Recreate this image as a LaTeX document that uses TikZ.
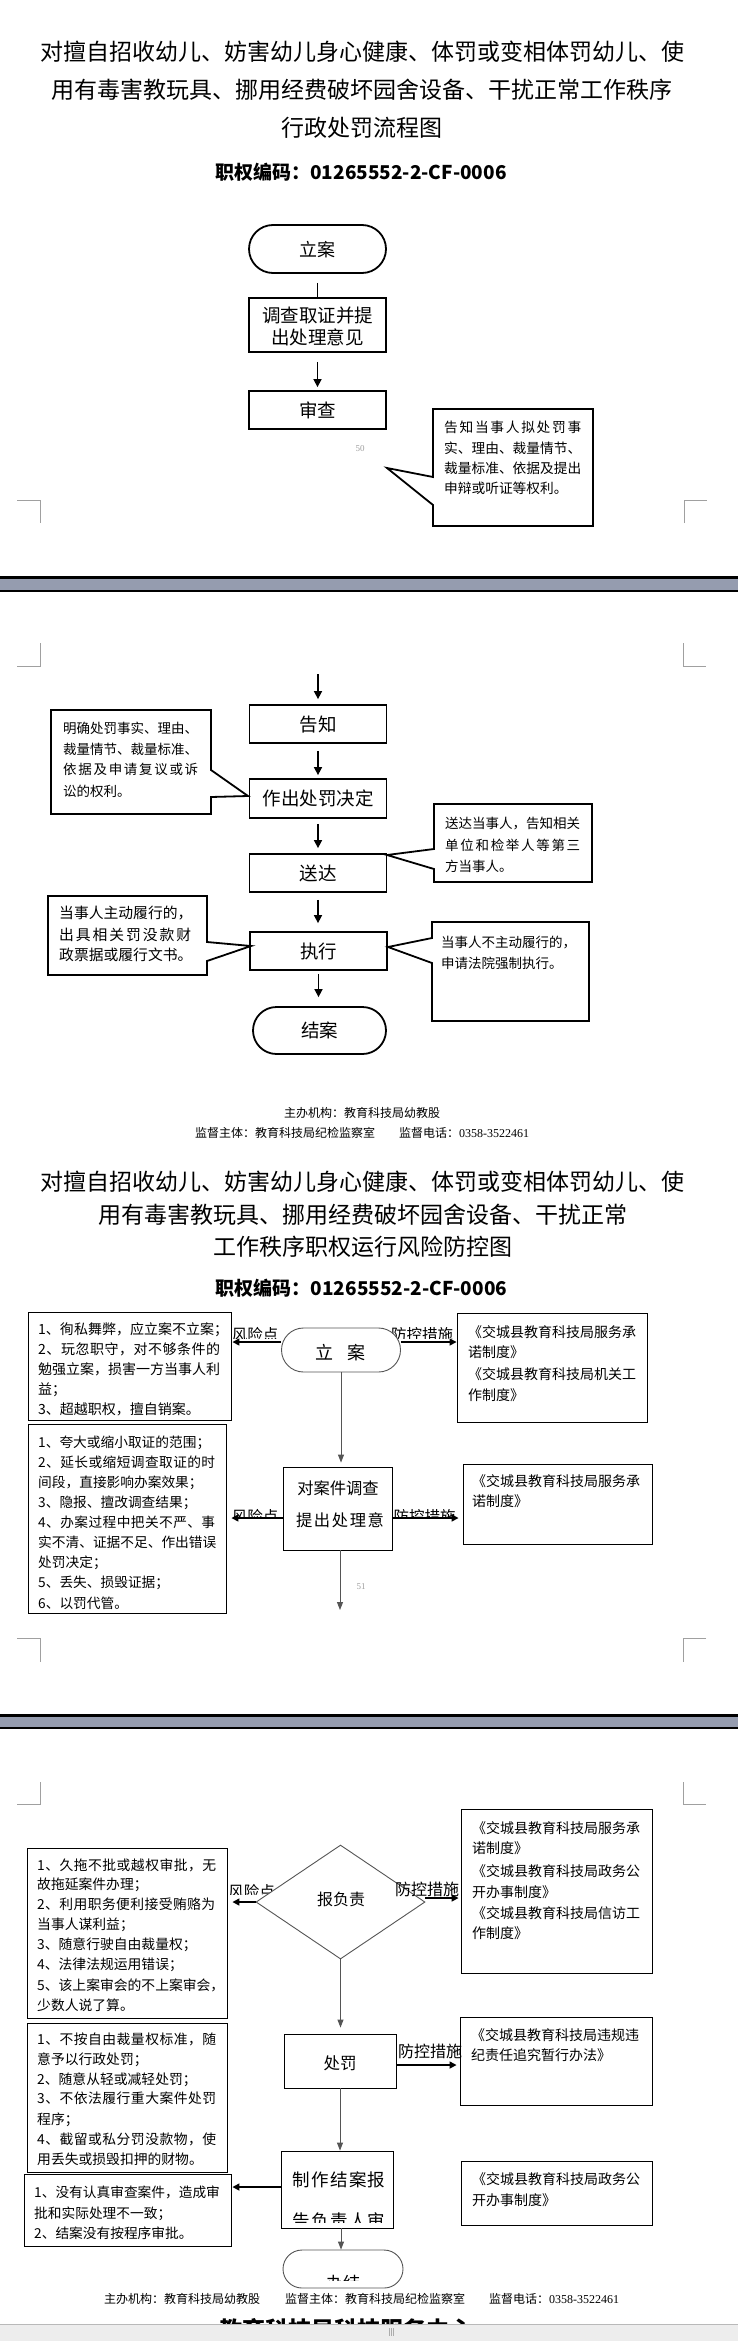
\documentclass[tikz,border=0pt]{standalone}
\usepackage{fontspec}
\setmainfont{Noto Sans CJK SC}
\newfontfamily\tnr{Liberation Serif}
\usetikzlibrary{arrows.meta,shapes.geometric}
\definecolor{bandgray}{RGB}{149,156,175}
\definecolor{markgray}{RGB}{160,160,160}
\definecolor{edgegray}{RGB}{85,85,85}
\makeatletter
\newcommand\myspread[2]{\hbox to #1{\@tfor\my@tok:=#2\do{\my@tok\hfil}\unskip}}
\makeatother
\begin{document}
\begin{tikzpicture}[x=1pt,y=-1pt,
  ln/.style={inner sep=0pt, anchor=west, font=\fontsize{#1}{#1}\selectfont, text height=#1pt*0.88, text depth=#1pt*0.12},
  ct/.style={ln=#1, anchor=center},
  bct/.style={ln=#1, anchor=center, font=\fontsize{#1}{#1}\selectfont\bfseries},
  tbox/.style={draw, line width=1.8pt, inner sep=0pt},
  nbox/.style={draw, line width=0.9pt, inner sep=0pt},
  gbox/.style={draw=edgegray, line width=0.9pt, inner sep=0pt, fill=white},
  callout/.style={draw, line width=1.8pt, fill=white, line join=miter},
  arrA/.style={line width=1.6pt, -{Triangle[length=8pt,width=8pt]}},
  arrB/.style={line width=0.9pt, draw=edgegray, -{Triangle[length=8pt,width=6pt]}},
  arrC/.style={line width=1.5pt, -{Triangle[length=7pt,width=7pt]}},
  mk/.style={draw=markgray, line width=0.6pt},
  pgmark/.style={inner sep=0pt, font=\fontsize{9}{9}\selectfont\tnr, text=markgray}
]
\fill[white] (0,0) rectangle (738,2341);
\useasboundingbox (0,0) rectangle (738,2341);

%================ PAGE 1 =================
\node[ct=23] (t1) at (362,52) {对擅自招收幼儿、妨害幼儿身心健康、体罚或变相体罚幼儿、使};
\node[ct=23] (t2) at (362,90) {用有毒害教玩具、挪用经费破坏园舍设备、干扰正常工作秩序};
\node[ct=23] (t3) at (362,128) {行政处罚流程图};
\node[bct=19] (code1) at (361,172) {职权编码：01265552-2-CF-0006};

\node[tbox, rounded corners=24pt, minimum width=137pt, minimum height=48pt] (la1) at (317.5,249) {};
\node[ct=18] (la1t) at (317.5,250) {立案};
\node[tbox, minimum width=137pt, minimum height=54pt] (dc1) at (317.5,325) {};
\node[ct=18.5] (dc1a) at (317.5,315) {调查取证并提};
\node[ct=18.5] (dc1b) at (317.5,337) {出处理意见};
\node[tbox, ct=18.5, minimum width=137pt, minimum height=38pt] (sc1) at (317.5,410) {审查};
\draw[line width=1.6pt, shorten <=9pt] (la1.south) -- (dc1.north);
\draw[arrA, shorten <=9pt, shorten >=3pt] (dc1.south) -- (sc1.north);

\draw[callout] (433,409) -- (593,409) -- (593,526) -- (433,526) -- (433,505) -- (387,468) -- (433,477) -- cycle;
\node[ln=13.7] (n1a) at (444,427) {\myspread{137pt}{告知当事人拟处罚事}};
\node[ln=13.7] (n1b) at (444,448) {实、理由、裁量情节、};
\node[ln=13.7] (n1c) at (444,468) {裁量标准、依据及提出};
\node[ln=13.7] (n1d) at (444,488) {申辩或听证等权利。};
\node[pgmark] (p50) at (360,449) {50};

\draw[mk] (684,523) -- (684,500) -- (707,500);
\draw[mk] (17,500) -- (40,500) -- (40,523);

% page break band
\fill[black] (0,576) rectangle (738,579);
\fill[bandgray] (0,579) rectangle (738,590);
\fill[black] (0,590) rectangle (738,591.5);

%================ PAGE 2 =================
\draw[mk] (40,643) -- (40,666) -- (17,666);
\draw[mk] (683,643) -- (683,666) -- (706,666);

\coordinate (c0) at (318,674);
\node[tbox, ct=18.5, minimum width=137pt, minimum height=38pt] (gz) at (318,724) {告知};
\draw[arrA, shorten >=5pt] (c0) -- (c0 |- gz.north);

\draw[callout] (51,710) -- (211,710) -- (211,770) -- (248,796) -- (211,797) -- (211,814) -- (51,814) -- cycle;
\node[ln=13.5] (n2a) at (63,728) {明确处罚事实、理由、};
\node[ln=13.5] (n2b) at (63,749) {裁量情节、裁量标准、};
\node[ln=13.5] (n2c) at (63,769) {\myspread{135pt}{依据及申请复议或诉}};
\node[ln=13.5] (n2d) at (63,791) {讼的权利。};

\node[tbox, ct=18.5, minimum width=137pt, minimum height=39pt] (jd) at (318,798.5) {作出处罚决定};
\draw[arrA, shorten <=7pt, shorten >=3pt] (gz.south) -- (jd.north);

\draw[callout] (434,804) -- (592,804) -- (592,882) -- (434,882) -- (434,869) -- (387,855) -- (434,849) -- cycle;
\node[ln=13.5] (n3a) at (445,823) {送达当事人，告知相关};
\node[ln=13.5] (n3b) at (445,845) {\myspread{135pt}{单位和检举人等第三}};
\node[ln=13.5] (n3c) at (445,866) {方当事人。};

\node[tbox, ct=18.5, minimum width=137pt, minimum height=38pt] (sd) at (318,873) {送达};
\draw[arrA, shorten <=5pt, shorten >=5pt] (jd.south) -- (sd.north);

\draw[callout] (48,896) -- (207,896) -- (207,942) -- (251,946) -- (207,961) -- (207,975) -- (48,975) -- cycle;
\node[ln=14.8] (n4a) at (59,913) {当事人主动履行的，};
\node[ln=14.8] (n4b) at (59,935) {\myspread{132pt}{出具相关罚没款财}};
\node[ln=14.8] (n4c) at (59,955) {政票据或履行文书。};

\draw[callout] (432,922) -- (589,922) -- (589,1021) -- (432,1021) -- (432,963) -- (388,947) -- (432,938) -- cycle;
\node[ln=13.5] (n5a) at (441,942) {当事人不主动履行的，};
\node[ln=13.5] (n5b) at (441,963) {申请法院强制执行。};

\node[tbox, ct=18.5, minimum width=137pt, minimum height=38pt] (zx) at (318.5,951) {执行};
\draw[arrA, shorten <=7pt, shorten >=8pt] (sd.south) -- (sd.south |- zx.north);

\node[tbox, ct=18.5, rounded corners=23.5pt, minimum width=133pt, minimum height=47pt] (ja) at (319.5,1030.5) {结案};
\draw[arrA, shorten <=3pt, shorten >=9pt] (zx.south) -- (zx.south |- ja.north);

\node[ct=12] (f1) at (362,1113) {主办机构：教育科技局幼教股};
\node[ln=12] (f2) at (195,1133) {监督主体：教育科技局纪检监察室};
\node[ln=12] (f3) at (399,1133) {监督电话：{\tnr 0358-3522461}};

%================ PAGE 2 (risk chart) =================
\node[ct=23] (t4) at (362,1182) {对擅自招收幼儿、妨害幼儿身心健康、体罚或变相体罚幼儿、使};
\node[ct=23] (t5) at (363,1215) {用有毒害教玩具、挪用经费破坏园舍设备、干扰正常};
\node[ct=23] (t6) at (362.5,1247) {工作秩序职权运行风险防控图};
\node[bct=19] (code2) at (361.5,1288) {职权编码：01265552-2-CF-0006};

% left box 1
\node[nbox, minimum width=203pt, minimum height=108pt] (L1) at (129.5,1366) {};
\node[ln=14] (l1a) at (38,1329) {\myspread{190pt}{1、徇私舞弊，应立案不立案；}};
\node[ln=14] (l1b) at (38,1349) {\myspread{182pt}{2、玩忽职守，对不够条件的}};
\node[ln=14] (l1c) at (38,1369) {勉强立案，损害一方当事人利};
\node[ln=14] (l1d) at (38,1389) {益；};
\node[ln=14] (l1e) at (38,1409) {3、超越职权，擅自销案。};

\begin{scope}
  \clip (226,1318) rectangle (284,1338);
  \node[ct=15.5] (rk1) at (255,1335) {风险点};
\end{scope}
\begin{scope}
  \clip (388,1318) rectangle (458,1338);
  \node[ct=15.5] (fk1) at (422,1335) {防控措施};
\end{scope}

\node[gbox, rounded corners=22pt, minimum width=119pt, minimum height=44pt] (la2) at (341,1350) {};
\node[ct=18] (la2t) at (340.5,1353) {\myspread{51pt}{立案}};

\node[nbox, minimum width=190pt, minimum height=109pt] (R1) at (552,1367.5) {};
\node[ln=14] (r1a) at (468,1332) {《交城县教育科技局服务承};
\node[ln=14] (r1b) at (468,1352) {诺制度》};
\node[ln=14] (r1c) at (468,1374) {《交城县教育科技局机关工};
\node[ln=14] (r1d) at (468,1395) {作制度》};

\draw[arrC, shorten >=1pt] ([yshift=8pt]la2.west) -- ([yshift=8pt]la2.west -| L1.east);
\draw[arrC] ([yshift=8pt]la2.east) -- ([yshift=8pt]la2.east -| R1.west);

\node[nbox, minimum width=109pt, minimum height=83pt] (dc2) at (337.5,1508.5) {};
\node[ct=16.3] (dc2a) at (338,1488) {对案件调查};
\node[ct=16.3] (dc2b) at (340,1520) {\myspread{88pt}{提出处理意}};
\draw[arrB, shorten >=4pt] (la2.south) -- (la2.south |- dc2.north);

\node[nbox, minimum width=198pt, minimum height=189pt] (L2) at (127,1518.5) {};
\node[ln=13.7] (l2a) at (38,1442) {1、夸大或缩小取证的范围；};
\node[ln=13.7] (l2b) at (38,1462) {\myspread{177pt}{2、延长或缩短调查取证的时}};
\node[ln=13.7] (l2c) at (38,1482) {间段，直接影响办案效果；};
\node[ln=13.7] (l2d) at (38,1502) {3、隐报、擅改调查结果；};
\node[ln=13.7] (l2e) at (38,1522) {\myspread{177pt}{4、办案过程中把关不严、事}};
\node[ln=13.7] (l2f) at (38,1542) {实不清、证据不足、作出错误};
\node[ln=13.7] (l2g) at (38,1562) {处罚决定；};
\node[ln=13.7] (l2h) at (38,1582) {5、丢失、损毁证据；};
\node[ln=13.7] (l2i) at (38,1603) {6、以罚代管。};

\begin{scope}
  \clip (226,1500) rectangle (284,1517);
  \node[ct=15.5] (rk2) at (255,1517) {风险点};
\end{scope}
\begin{scope}
  \clip (390,1500) rectangle (460,1517);
  \node[ct=15.5] (fk2) at (424.5,1517) {防控措施};
\end{scope}

\node[nbox, minimum width=189pt, minimum height=80pt] (R2) at (557.5,1504) {};
\node[ln=14] (r2a) at (472,1481) {《交城县教育科技局服务承};
\node[ln=14] (r2b) at (472,1501) {诺制度》};

\draw[arrC, shorten >=5pt] ([yshift=-9.5pt]dc2.west) -- ([yshift=-9.5pt]dc2.west -| L2.east);
\draw[arrC, shorten >=4pt] ([yshift=-9.5pt]dc2.east) -- ([yshift=-9.5pt]dc2.east -| R2.west);

\coordinate (c1e) at (340,1610);
\draw[arrB] (dc2.south -| c1e) -- (c1e);
\node[pgmark] (p51) at (361,1587) {51};

\draw[mk] (17,1638) -- (40,1638) -- (40,1662);
\draw[mk] (706,1638) -- (683,1638) -- (683,1662);

% page break band
\fill[black] (0,1714) rectangle (738,1717);
\fill[bandgray] (0,1717) rectangle (738,1727);
\fill[black] (0,1727) rectangle (738,1729);

\draw[mk] (40,1782) -- (40,1804) -- (17,1804);
\draw[mk] (683,1782) -- (683,1804) -- (706,1804);

%================ PAGE 3 =================
\begin{scope}
  \clip (224,1876) rectangle (282,1894);
  \node[ct=15.5] (rk3) at (251.5,1892) {风险点};
\end{scope}

\node[diamond, draw=edgegray, line width=0.9pt, fill=white, minimum width=169pt, minimum height=114pt, inner sep=0pt] (bfz) at (340.5,1902) {};
\node[ct=16] (bfzt) at (341,1899) {报负责};
\node[ct=16] (fk3) at (427,1889) {防控措施};

\node[nbox, minimum width=191pt, minimum height=164pt] (R3) at (556.5,1891) {};
\node[ln=14] (r3a) at (472,1828) {《交城县教育科技局服务承};
\node[ln=14] (r3b) at (472,1848) {诺制度》};
\node[ln=14] (r3c) at (472,1871) {《交城县教育科技局政务公};
\node[ln=14] (r3d) at (472,1892) {开办事制度》};
\node[ln=14] (r3e) at (472,1913) {《交城县教育科技局信访工};
\node[ln=14] (r3f) at (472,1933) {作制度》};

\node[nbox, minimum width=200pt, minimum height=170pt] (L3) at (127,1933) {};
\node[ln=13.8] (l3a) at (37,1865) {\myspread{179pt}{1、久拖不批或越权审批，无}};
\node[ln=13.8] (l3b) at (37,1884) {故拖延案件办理；};
\node[ln=13.8] (l3c) at (37,1904) {\myspread{178pt}{2、利用职务便利接受贿赂为}};
\node[ln=13.8] (l3d) at (37,1924) {当事人谋利益；};
\node[ln=13.8] (l3e) at (37,1944) {3、随意行驶自由裁量权；};
\node[ln=13.8] (l3f) at (37,1964) {4、法律法规运用错误；};
\node[ln=13.8] (l3g) at (37,1985) {5、该上案审会的不上案审会，};
\node[ln=13.8] (l3h) at (37,2005) {少数人说了算。};

\draw[arrC, shorten >=5pt] (bfz.west) -- (bfz.west -| L3.east);
\draw[arrC, shorten >=2pt] ([yshift=4pt]bfz.east) -- ([yshift=4pt]bfz.east -| R3.west);

\node[nbox, ct=16.5, minimum width=112pt, minimum height=54pt] (cf) at (340,2061) {};
\node[ct=16.5] (cft) at (340,2063) {处罚};
\draw[arrB, shorten >=6pt] (bfz.south) -- (bfz.south |- cf.north);
\node[ct=16] (fk4) at (430,2051) {防控措施};

\node[nbox, minimum width=192pt, minimum height=88pt] (R4) at (556,2061) {};
\node[ln=14] (r4a) at (471,2035) {《交城县教育科技局违规违};
\node[ln=14] (r4b) at (471,2055) {纪责任追究暂行办法》};
\draw[arrC, shorten >=3pt] ([yshift=-4pt]cf.east) -- ([yshift=-4pt]cf.east -| R4.west);

\node[nbox, minimum width=200pt, minimum height=149pt] (L4) at (127,2097.5) {};
\node[ln=13.8] (l4a) at (37,2039) {\myspread{179pt}{1、不按自由裁量权标准，随}};
\node[ln=13.8] (l4b) at (37,2059) {意予以行政处罚；};
\node[ln=13.8] (l4c) at (37,2079) {2、随意从轻或减轻处罚；};
\node[ln=13.8] (l4d) at (37,2098) {\myspread{179pt}{3、不依法履行重大案件处罚}};
\node[ln=13.8] (l4e) at (37,2119) {程序；};
\node[ln=13.8] (l4f) at (37,2139) {\myspread{179pt}{4、截留或私分罚没款物，使}};
\node[ln=13.8] (l4g) at (37,2159) {用丢失或损毁扣押的财物。};

\node[nbox, minimum width=112pt, minimum height=77pt] (zj) at (337,2189.5) {};
\node[ct=17.5] (zja) at (339,2180) {\myspread{93pt}{制作结案报}};
\begin{scope}
  \clip (282,2200) rectangle (392,2222);
  \node[ct=17.5] (zjb) at (339,2221) {\myspread{93pt}{告负责人审}};
\end{scope}
\draw[arrB] (cf.south) -- (cf.south |- zj.north);

\node[nbox, minimum width=207pt, minimum height=72pt] (L5) at (127.5,2210) {};
\node[ln=13.7] (l5a) at (34,2192) {1、没有认真审查案件，造成审};
\node[ln=13.7] (l5b) at (34,2213) {批和实际处理不一致；};
\node[ln=13.7] (l5c) at (34,2233) {2、结案没有按程序审批。};
\draw[arrC, shorten >=1pt] ([yshift=2.5pt]zj.west) -- ([yshift=2.5pt]zj.west -| L5.east);

\node[nbox, minimum width=191pt, minimum height=64pt] (R5) at (556.5,2193) {};
\node[ln=14] (r5a) at (472,2179) {《交城县教育科技局政务公};
\node[ln=14] (r5b) at (472,2200) {开办事制度》};

\node[gbox, rounded corners=19pt, minimum width=120pt, minimum height=38pt] (bj) at (343,2269) {};
\begin{scope}
  \clip (290,2255) rectangle (396,2280);
  \node[ct=17] (bjt) at (343,2283) {办结};
\end{scope}
\draw[arrB] ([xshift=4pt]zj.south) -- ([xshift=4pt]zj.south |- bj.north);

\node[ln=12] (f4) at (104,2299) {主办机构：教育科技局幼教股};
\node[ln=12] (f5) at (285,2299) {监督主体：教育科技局纪检监察室};
\node[ln=12] (f6) at (489,2299) {监督电话：{\tnr 0358-3522461}};

\node[bct=23] (t7) at (357,2330) {教育科技局科技服务中心、};

% scroll bar
\fill[gray!14] (0,2324) rectangle (738,2341);
\draw[gray!55, line width=0.8pt] (0,2324.4) -- (738,2324.4);
\draw[gray!65, line width=0.6pt] (389,2328) -- (389,2336) (391,2328) -- (391,2336) (393,2328) -- (393,2336);
\end{tikzpicture}
\end{document}
